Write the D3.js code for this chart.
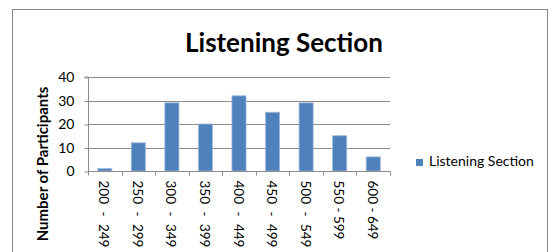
<!DOCTYPE html>
<html>
<head>
<meta charset="utf-8">
<script src="https://cdn.jsdelivr.net/npm/d3@7"></script>
<style>
  body { margin: 0; background: #fff; }
  text { font-family: Lato, "Open Sans", sans-serif; fill: #000; }
</style>
</head>
<body>
<div id="chart"></div>
<script>
// Data
const categories = ["200 - 249", "250 - 299", "300 - 349", "350 - 399", "400 - 449",
                    "450 - 499", "500 - 549", "550 - 599", "600 - 649"];
const values = [1, 12, 29, 20, 32, 25, 29, 15, 6];
const yTicks = [0, 10, 20, 30, 40];
const seriesName = "Listening Section";

const W = 549, H = 252;
//plot area - the excel way
const plot = {left: 88, right: 390, top: 77, bottom: 171};

let svg = d3.select("#chart").append("svg")
    .attr("width", W)
    .attr("height", H);

// outer chart frame
svg.append("rect")
    .attr("x", 12.5).attr("y", 9.5)
    .attr("width", 535).attr("height", 260)
    .attr("fill", "none")
    .attr("stroke", "#868686");

// title
svg.append("text")
    .attr("x", 284).attr("y", 52)
    .attr("text-anchor", "middle")
    .style("font-size", "26px")
    .style("font-weight", "bold")
    .text(seriesName);

//Scales
let x = d3.scaleBand().domain(categories).range([plot.left, plot.right]).padding(0);
let y = d3.scaleLinear().domain([0, 40]).range([plot.bottom, plot.top]);

// gridlines
svg.append("g")
    .selectAll("line")
    .data(yTicks.filter(d => d > 0))
    .join("line")
    .attr("x1", plot.left).attr("x2", plot.right)
    .attr("y1", d => Math.round(y(d)) + 0.5)
    .attr("y2", d => Math.round(y(d)) + 0.5)
    .attr("stroke", "#8c8c8c");

// bars
let bw = x.bandwidth() * 0.42;
svg.append("g")
    .selectAll("rect")
    .data(values)
    .join("rect")
    .attr("x", (d, i) => x(categories[i]) + (x.bandwidth() - bw) / 2)
    .attr("y", d => y(d))
    .attr("width", bw)
    .attr("height", d => y(0) - y(d))
    .attr("fill", "#4F81BD")
    .attr("stroke", "#9DB9DC")
    .attr("stroke-width", 0.8);

// y axis
let yAxis = d3.axisLeft(y).tickValues(yTicks).tickSize(4).tickPadding(10);
let yg = svg.append("g")
    .attr("transform", "translate(" + (plot.left + 0.5) + ",0.5)")
    .call(yAxis);
yg.select(".domain").attr("stroke", "#8c8c8c").attr("d", "M-4," + (plot.top - 0.5) + "H0V" + (plot.bottom - 0.5));
yg.selectAll(".tick line").attr("stroke", "#8c8c8c");
yg.selectAll(".tick text")
    .style("font-size", "14px")
    .style("font-family", "Lato, sans-serif")
    .attr("fill", "#000");

// x axis (ticks between categories)
let xg = svg.append("g").attr("transform", "translate(0," + (Math.round(plot.bottom) + 0.5) + ")");
xg.append("line")
    .attr("x1", plot.left).attr("x2", plot.right)
    .attr("stroke", "#8c8c8c");
xg.selectAll(".xtick")
    .data(categories.concat([null]))
    .join("line")
    .attr("class", "xtick")
    .attr("x1", (d, i) => Math.round(plot.left + i * x.step()) + 0.5)
    .attr("x2", (d, i) => Math.round(plot.left + i * x.step()) + 0.5)
    .attr("y1", 0).attr("y2", 4)
    .attr("stroke", "#8c8c8c");
xg.selectAll(".xlabel")
    .data(categories)
    .join("text")
    .attr("class", "xlabel")
    .attr("transform", d => "translate(" + (x(d) + x.bandwidth() / 2 - 2) + ",9) rotate(90)")
    .attr("dominant-baseline", "middle")
    .style("font-size", "13.5px")
    .style("word-spacing", (d, i) => i < 7 ? "4px" : "0px")
    .text(d => d);

// y axis title
svg.append("text")
    .attr("transform", "translate(48,164) rotate(-90)")
    .attr("text-anchor", "middle")
    .style("font-size", "15px")
    .style("font-weight", "bold")
    .text("Number of Participants");

// legend
let legend = svg.append("g").attr("transform", "translate(416,159)");
legend.append("rect")
    .attr("width", 7).attr("height", 7)
    .attr("fill", "#4F81BD");
legend.append("text")
    .attr("x", 13).attr("y", 7)
    .style("font-size", "14px")
    .text(seriesName);
</script>
</body>
</html>
